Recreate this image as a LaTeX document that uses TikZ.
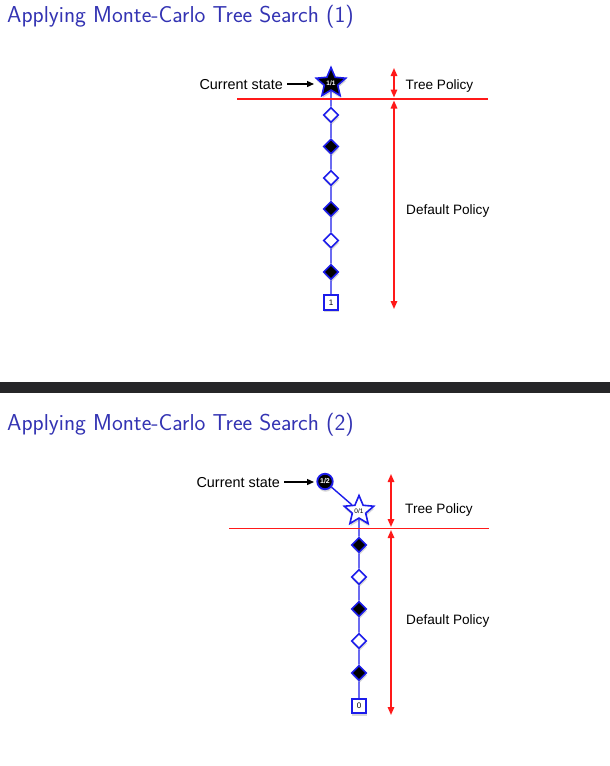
\documentclass[tikz,border=0pt]{standalone}
\usepackage{fontspec}
\newfontfamily\helv{Liberation Sans}
\usetikzlibrary{shapes.geometric,arrows.meta,shadows}
\definecolor{titleblue}{RGB}{51,51,179}
\definecolor{nodeblue}{RGB}{28,28,235}
\definecolor{barcol}{RGB}{38,38,40}
\definecolor{redline}{RGB}{255,25,25}
\begin{document}
\begin{tikzpicture}[x=1pt,y=-1pt,
  slidetitle/.style={anchor=base west, inner sep=0, text=titleblue, font=\sffamily\fontsize{23}{27}\selectfont},
  lbl/.style={inner sep=0, font=\helv\fontsize{13.6}{16}\selectfont},
  cslbl/.style={inner sep=0, anchor=base east, font=\helv\fontsize{14.4}{16}\selectfont},
  shad/.style={drop shadow={shadow xshift=0.6pt, shadow yshift=-2.5pt, opacity=0.3}},
  dia/.style={diamond, draw=nodeblue, line width=1.6pt, minimum size=15pt, inner sep=0, shad},
  wdia/.style={dia, fill=white},
  bdia/.style={dia, fill=black},
  leaf/.style={rectangle, draw=nodeblue, line width=1.6pt, fill=white, minimum size=14.5pt, inner sep=0, shad, font=\helv\fontsize{8}{9}\selectfont},
  starnode/.style={star, star points=5, star point ratio=2.2, draw=nodeblue, line width=1.6pt, minimum size=31pt, inner sep=0, shad, font=\helv\bfseries\fontsize{6.5}{7}\selectfont},
  rootc/.style={circle, draw=nodeblue, line width=1.8pt, fill=black, text=white, minimum size=15.5pt, inner sep=0, shad, font=\helv\bfseries\fontsize{7}{8}\selectfont},
  stem/.style={draw=nodeblue, line width=1.4pt},
  redl/.style={draw=redline, line width=1.5pt},
  redarr/.style={draw=redline, line width=1.5pt, {Triangle[length=8pt,width=6.5pt]}-{Triangle[length=8pt,width=6.5pt]}},
  blkarr/.style={draw=black, line width=1.3pt, -{Triangle[length=7pt,width=6pt]}}
]
\useasboundingbox (0,0) rectangle (610,766);
\fill[white] (0,0) rectangle (610,766);

% ---------------- Slide 1 ----------------
\node[slidetitle] (t1) at (7,22) {Applying Monte-Carlo Tree Search (1)};

\node[starnode, fill=black, text=white] (s1) at (331,83) {1/1};
\node[wdia] (a1) at (331,115) {};
\node[bdia] (a2) at (331,146.5) {};
\node[wdia] (a3) at (331,178) {};
\node[bdia] (a4) at (331,209) {};
\node[wdia] (a5) at (331,240.5) {};
\node[bdia] (a6) at (331,272) {};
\node[leaf] (a7) at (331,302.5) {1};
\draw[stem] (s1) -- (a1) -- (a2) -- (a3) -- (a4) -- (a5) -- (a6) -- (a7);

\coordinate (l1a) at (237,99);
\coordinate (l1b) at (488,99);
\draw[redl] (l1a) -- (l1b);

\coordinate (tp1a) at (394,68);
\coordinate (tp1b) at (394,97.5);
\draw[redarr] (tp1a) -- (tp1b);
\coordinate (dp1a) at (394,100.5);
\coordinate (dp1b) at (394,309);
\draw[redarr] (dp1a) -- (dp1b);

\node[lbl, anchor=base west] (tpl1) at (405.5,89) {Tree Policy};
\node[lbl, anchor=base west] (dpl1) at (406,214) {Default Policy};

\node[cslbl] (cs1) at (283,89) {Current state};
\coordinate (cs1tip) at (314,84);
\draw[blkarr] ([xshift=4pt,yshift=5pt]cs1.base east) -- (cs1tip);

% ---------------- bar ----------------
\fill[barcol] (0,382) rectangle (610,393);

% ---------------- Slide 2 ----------------
\node[slidetitle] (t2) at (7,430) {Applying Monte-Carlo Tree Search (2)};

\node[rootc] (r2) at (325,481.5) {1/2};
\node[starnode, fill=white, text=black, font=\helv\fontsize{6.5}{7}\selectfont] (s2) at (359,511) {0/1};
\node[bdia] (b1) at (359,545) {};
\node[wdia] (b2) at (359,577) {};
\node[bdia] (b3) at (359,609) {};
\node[wdia] (b4) at (359,641) {};
\node[bdia] (b5) at (359,673) {};
\node[leaf] (b6) at (359,706) {0};
\draw[stem] (r2) -- (s2);
\draw[stem] (s2) -- (b1) -- (b2) -- (b3) -- (b4) -- (b5) -- (b6);

\coordinate (l2a) at (229,528.5);
\coordinate (l2b) at (489,528.5);
\draw[redl] (l2a) -- (l2b);

\coordinate (tp2a) at (391,474);
\coordinate (tp2b) at (391,527);
\draw[redarr] (tp2a) -- (tp2b);
\coordinate (dp2a) at (391,530);
\coordinate (dp2b) at (391,715);
\draw[redarr] (dp2a) -- (dp2b);

\node[lbl, anchor=base west] (tpl2) at (405,513) {Tree Policy};
\node[lbl, anchor=base west] (dpl2) at (406,624) {Default Policy};

\node[cslbl] (cs2) at (280,487) {Current state};
\coordinate (cs2tip) at (314,482);
\draw[blkarr] ([xshift=4pt,yshift=5pt]cs2.base east) -- (cs2tip);
\end{tikzpicture}
\end{document}
